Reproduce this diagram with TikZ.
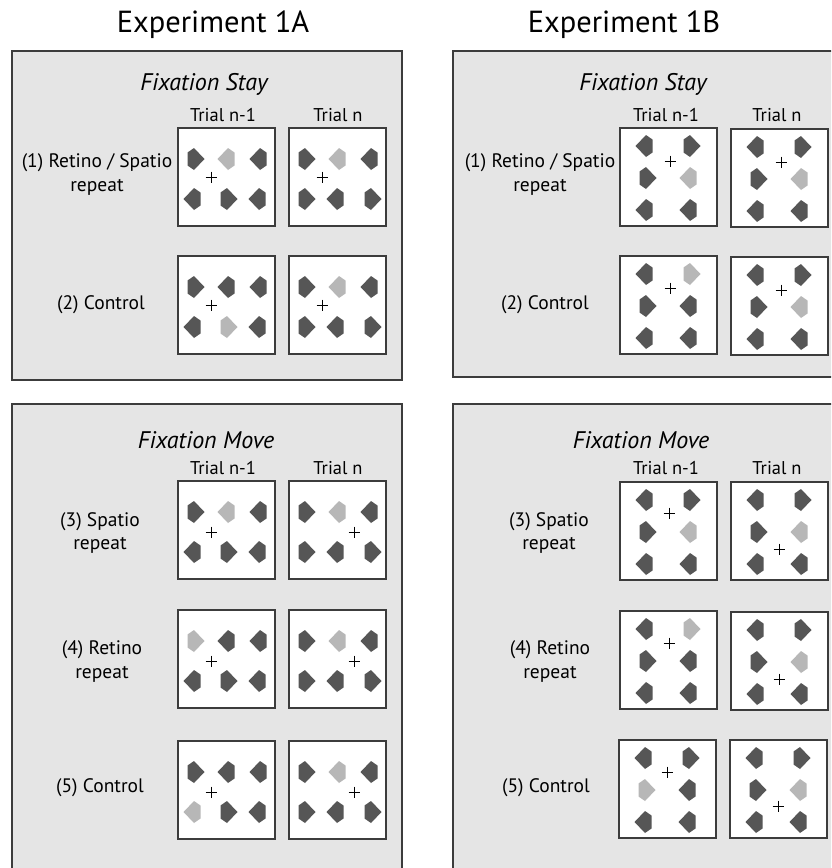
\documentclass[tikz,border=0pt]{standalone}
\usepackage{fontspec}
\setmainfont{PT Sans}
\definecolor{panelfill}{HTML}{E5E5E5}
\definecolor{edge}{HTML}{3C3C3C}
\definecolor{dk}{HTML}{565656}
\definecolor{lt}{HTML}{B7B7B7}
\tikzset{
 panel/.style={fill=panelfill, draw=edge, line width=1.3pt},
 stim/.style={draw=edge, fill=white, line width=1.3pt, minimum width=97pt, minimum height=98pt, inner sep=0pt, outer sep=0pt, anchor=north west},
 fixcross/.style={line width=0.9pt, black},
 titletext/.style={font=\fontsize{30.5}{36}\selectfont},
 subtext/.style={font=\itshape\fontsize{24}{28}\selectfont},
 trialtext/.style={font=\fontsize{18.5}{22}\selectfont},
 condtext/.style={font=\fontsize{19.5}{24}\selectfont, align=center},
}
\def\layAa{18/31/1,48/31/-1,80/31/-1,14/71/-1,51/71/1,79/71/-1}
\def\layAb{18/31/1,48/31/-1,80/31/-1,18/71/1,46/71/-1,84/71/1}
\def\layB{24/18/-1,72/18/1,28/50/1,68/50/-1,24/82/-1,68/82/-1}
% name, x, y, layout, light index, cross x, cross y
\newcommand\stimbox[7]{%
 \node[stim] (#1) at (#2,#3) {};
 \foreach \px/\py/\o [count=\i] in #4 {%
   \ifnum\i=#5\relax\def\col{lt}\else\def\col{dk}\fi
   \fill[fill=\col, shift={(#2+\px,#3+\py)}, xscale=\o] (-8.5,-6.5) -- (-2,-11) -- (8.5,0) -- (-2,11) -- (-8.5,6.5) -- cycle;
 }
 \draw[fixcross, shift={(#2+#6,#3+#7)}] (-5.5,0) -- (5.5,0) (0,-5.5) -- (0,5.5);
}
\begin{document}
\begin{tikzpicture}[x=1pt,y=-1pt]
\useasboundingbox (0,0) rectangle (831,868);
\clip (0,0) rectangle (831,868);
\fill[white] (0,0) rectangle (831,868);
% panels
\path[panel] (12,51) rectangle (402,380);
\path[panel] (453,51) rectangle (845,377);
\path[panel] (12,404) rectangle (402,885);
\path[panel] (453,404) rectangle (845,885);
% titles
\node[titletext] (tA) at (213,25) {Experiment 1A};
\node[titletext] (tB) at (624,25) {Experiment 1B};
\node[subtext] (sA1) at (204,84) {Fixation Stay};
\node[subtext] (sB1) at (643,84) {Fixation Stay};
\node[subtext] (sA2) at (206,440) {Fixation Move};
\node[subtext] (sB2) at (641,440) {Fixation Move};
% trial labels
\node[trialtext] (trA1a) at (223,115) {Trial n-1};
\node[trialtext] (trA1b) at (338,115) {Trial n};
\node[trialtext] (trB1a) at (666,115) {Trial n-1};
\node[trialtext] (trB1b) at (777,115) {Trial n};
\node[trialtext] (trA2a) at (223,468) {Trial n-1};
\node[trialtext] (trA2b) at (338,468) {Trial n};
\node[trialtext] (trB2a) at (666,468) {Trial n-1};
\node[trialtext] (trB2b) at (777,468) {Trial n};
% condition labels
\node[condtext] (cA1) at (97,175) {(1) Retino / Spatio\\repeat};
\node[condtext] (cA2) at (101,305) {(2) Control};
\node[condtext] (cA3) at (100,533) {(3) Spatio\\repeat};
\node[condtext] (cA4) at (102,661) {(4) Retino\\repeat};
\node[condtext] (cA5) at (100,788) {(5) Control};
\node[condtext] (cB1) at (540,175) {(1) Retino / Spatio\\repeat};
\node[condtext] (cB2) at (545,305) {(2) Control};
\node[condtext] (cB3) at (549,533) {(3) Spatio\\repeat};
\node[condtext] (cB4) at (550,661) {(4) Retino\\repeat};
\node[condtext] (cB5) at (546,788) {(5) Control};
% Experiment 1A boxes
\stimbox{a1p}{178}{128}{\layAa}{2}{33}{49}
\stimbox{a1n}{289}{128}{\layAb}{2}{33}{49}
\stimbox{a2p}{178}{256}{\layAa}{5}{33}{49}
\stimbox{a2n}{289}{256}{\layAb}{2}{33}{49}
\stimbox{a3p}{178}{481}{\layAa}{2}{33}{51}
\stimbox{a3n}{289}{481}{\layAb}{2}{65}{51}
\stimbox{a4p}{178}{610}{\layAa}{1}{33}{51}
\stimbox{a4n}{289}{610}{\layAb}{2}{65}{51}
\stimbox{a5p}{178}{741}{\layAa}{4}{33}{51}
\stimbox{a5n}{289}{741}{\layAb}{2}{65}{51}
% Experiment 1B boxes
\stimbox{b1p}{620}{128}{\layB}{4}{50}{33}
\stimbox{b1n}{731}{129}{\layB}{4}{50}{33}
\stimbox{b2p}{620}{256}{\layB}{2}{50}{32}
\stimbox{b2n}{731}{257}{\layB}{4}{50}{33}
\stimbox{b3p}{620}{482}{\layB}{4}{49}{31}
\stimbox{b3n}{731}{482}{\layB}{4}{48}{67}
\stimbox{b4p}{620}{611}{\layB}{2}{49}{32}
\stimbox{b4n}{731}{612}{\layB}{4}{48}{67}
\stimbox{b5p}{619}{740}{\layB}{3}{48}{32}
\stimbox{b5n}{730}{740}{\layB}{4}{48}{66}
\end{tikzpicture}
\end{document}
